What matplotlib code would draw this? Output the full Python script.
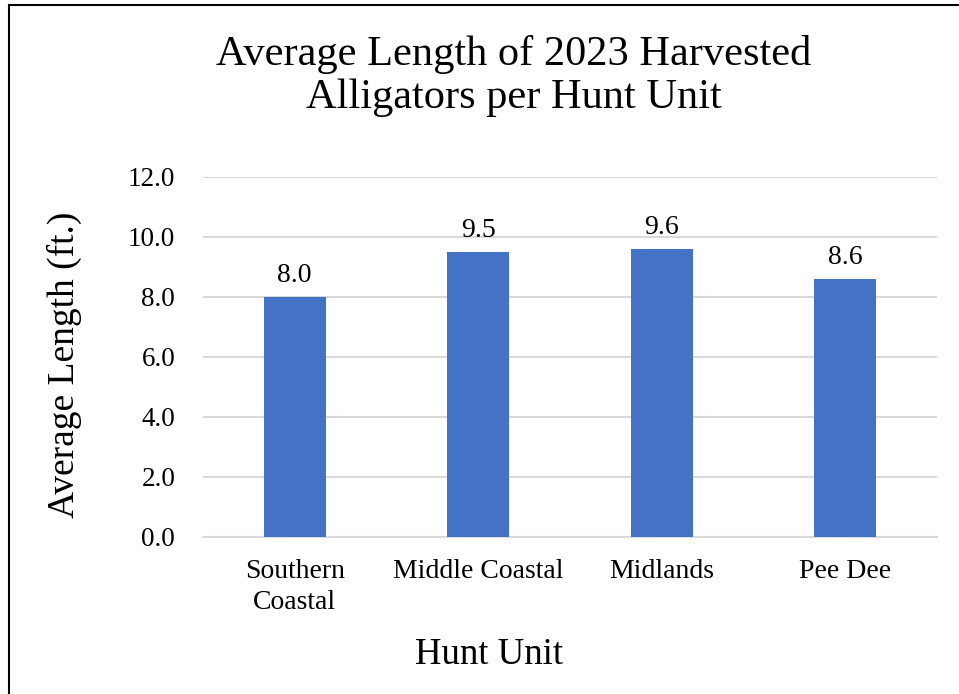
import matplotlib.pyplot as plt
from matplotlib.patches import Rectangle

plt.rcParams['font.family'] = ['Liberation Serif', 'DejaVu Serif']

units = ['Southern\nCoastal', 'Middle Coastal', 'Midlands', 'Pee Dee']
avg_length = [8.0, 9.5, 9.6, 8.6]
y_ticks = [0, 2, 4, 6, 8, 10, 12]

W, H = 959, 694
fig = plt.figure(figsize=(W / 100, H / 100), dpi=100)
ax = fig.add_axes([203 / W, 1 - 537 / H, 734 / W, 360 / H])

x = range(len(units))
bars = ax.bar(x, avg_length, width=0.34, color='#4472C4', zorder=3)
for b, v in zip(bars, avg_length):
    ax.text(b.get_x() + b.get_width() / 2, v + 0.3, f'{v:.1f}',
            ha='center', va='bottom', fontsize=20)

ax.set_xlim(-0.5, len(units) - 0.5)
ax.set_ylim(0, 12)
ax.set_yticks(y_ticks)
ax.set_yticklabels([f'{t:.1f}' for t in y_ticks], fontsize=19.5)
ax.set_xticks(list(x))
ax.set_xticklabels(units, fontsize=20, linespacing=1.3)
ax.tick_params(length=0)
ax.tick_params(axis='y', pad=20)
ax.tick_params(axis='x', pad=16)
ax.grid(axis='y', color='#D9D9D9', linewidth=1.5, zorder=0)
for s in ['top', 'right', 'left']:
    ax.spines[s].set_visible(False)
ax.spines['bottom'].set_color('#D9D9D9')
ax.spines['bottom'].set_linewidth(1.5)

fig.text(64 / W, 1 - 365 / H, 'Average Length (ft.)', rotation=90,
         ha='center', va='center', fontsize=27)
fig.text(489 / W, 1 - 655 / H, 'Hunt Unit', ha='center', va='center', fontsize=26.5)
fig.text(514 / W, 1 - 76 / H, 'Average Length of 2023 Harvested\nAlligators per Hunt Unit',
         ha='center', va='center', fontsize=30.5, linespacing=1.15)

# outer chart border, running off the right and bottom edges
fig.patches.append(Rectangle((8.5 / W, -0.1), 1.2, 1 - 5.5 / H + 0.1,
                             transform=fig.transFigure, fill=False,
                             edgecolor='black', linewidth=1.5))

fig.savefig('out.png', dpi=100)
